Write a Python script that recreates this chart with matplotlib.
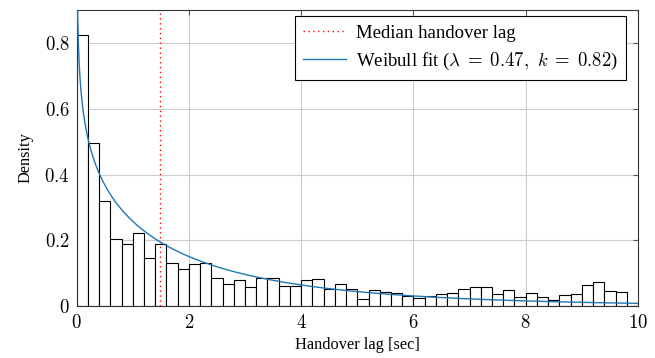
import numpy as np
import matplotlib
matplotlib.use("Agg")
import matplotlib.pyplot as plt
from matplotlib.ticker import FuncFormatter

# histogram of handover lag, bins of 0.2 s from 0 to 10 s
bin_edges = np.round(np.arange(0, 10.01, 0.2), 2)
density = [0.824, 0.496, 0.318, 0.204, 0.189, 0.221, 0.147, 0.189, 0.130, 0.112,
           0.127, 0.130, 0.086, 0.068, 0.080, 0.059, 0.086, 0.086, 0.062, 0.062,
           0.078, 0.083, 0.051, 0.068, 0.052, 0.022, 0.049, 0.044, 0.041, 0.030,
           0.026, 0.031, 0.037, 0.041, 0.052, 0.058, 0.058, 0.038, 0.049, 0.028,
           0.041, 0.028, 0.017, 0.035, 0.038, 0.064, 0.072, 0.047, 0.043, 0.0]

median_lag = 1.48
weibull_lam = 0.47
weibull_k = 0.82

plt.rcParams['font.family'] = ['Liberation Serif', 'DejaVu Serif']
plt.rcParams['mathtext.fontset'] = 'cm'

fig = plt.figure(figsize=(6.55, 3.58), dpi=100)
ax = fig.add_axes([0.117, 0.145, 0.857, 0.827])

widths = np.diff(bin_edges)
ax.bar(bin_edges[:-1], density, width=widths, align='edge',
       facecolor='white', edgecolor='black', linewidth=0.8, zorder=2)

# Weibull pdf (rate form) with the fitted parameters
x = np.linspace(0.001, 10, 2000)
pdf = weibull_k * weibull_lam * (weibull_lam * x) ** (weibull_k - 1) \
    * np.exp(-(weibull_lam * x) ** weibull_k)

ax.axvline(median_lag, color='red', linestyle=(0, (1, 2.5)), linewidth=1.0,
           zorder=3, label='Median handover lag')
ax.plot(x, pdf, color='#1f77b4', linewidth=1.0, zorder=4,
        label=r'Weibull fit ($\lambda\;=\;0.47,\ k\;=\;0.82$)')

ax.set_xlim(0, 10)
ax.set_ylim(0, 0.9)
ax.set_xticks([0, 2, 4, 6, 8, 10])
ax.set_yticks([0, 0.2, 0.4, 0.6, 0.8])
fmt = FuncFormatter(lambda v, p: '$%g$' % v)
ax.xaxis.set_major_formatter(fmt)
ax.yaxis.set_major_formatter(fmt)
ax.tick_params(direction='in', top=True, right=True, length=3.5,
               color='#555555', labelsize=13.5)
ax.tick_params(axis='x', pad=6)
ax.tick_params(axis='y', pad=5)
ax.grid(True, color='#cccccc', linewidth=0.8, zorder=0)
ax.set_axisbelow(True)
for s in ax.spines.values():
    s.set_color('#333333')
    s.set_linewidth(0.8)

ax.set_xlabel('Handover lag [sec]', fontsize=11.8, labelpad=3)
ax.set_ylabel('Density', fontsize=11.8, labelpad=8)

leg = ax.legend(loc='upper right', bbox_to_anchor=(0.979, 0.980),
                fontsize=13.5, fancybox=False, framealpha=1,
                edgecolor='black', borderaxespad=0, handlelength=2.3,
                handletextpad=0.5, borderpad=0.45, labelspacing=0.5)
leg.get_frame().set_linewidth(0.8)

fig.savefig('out.png', dpi=100)
